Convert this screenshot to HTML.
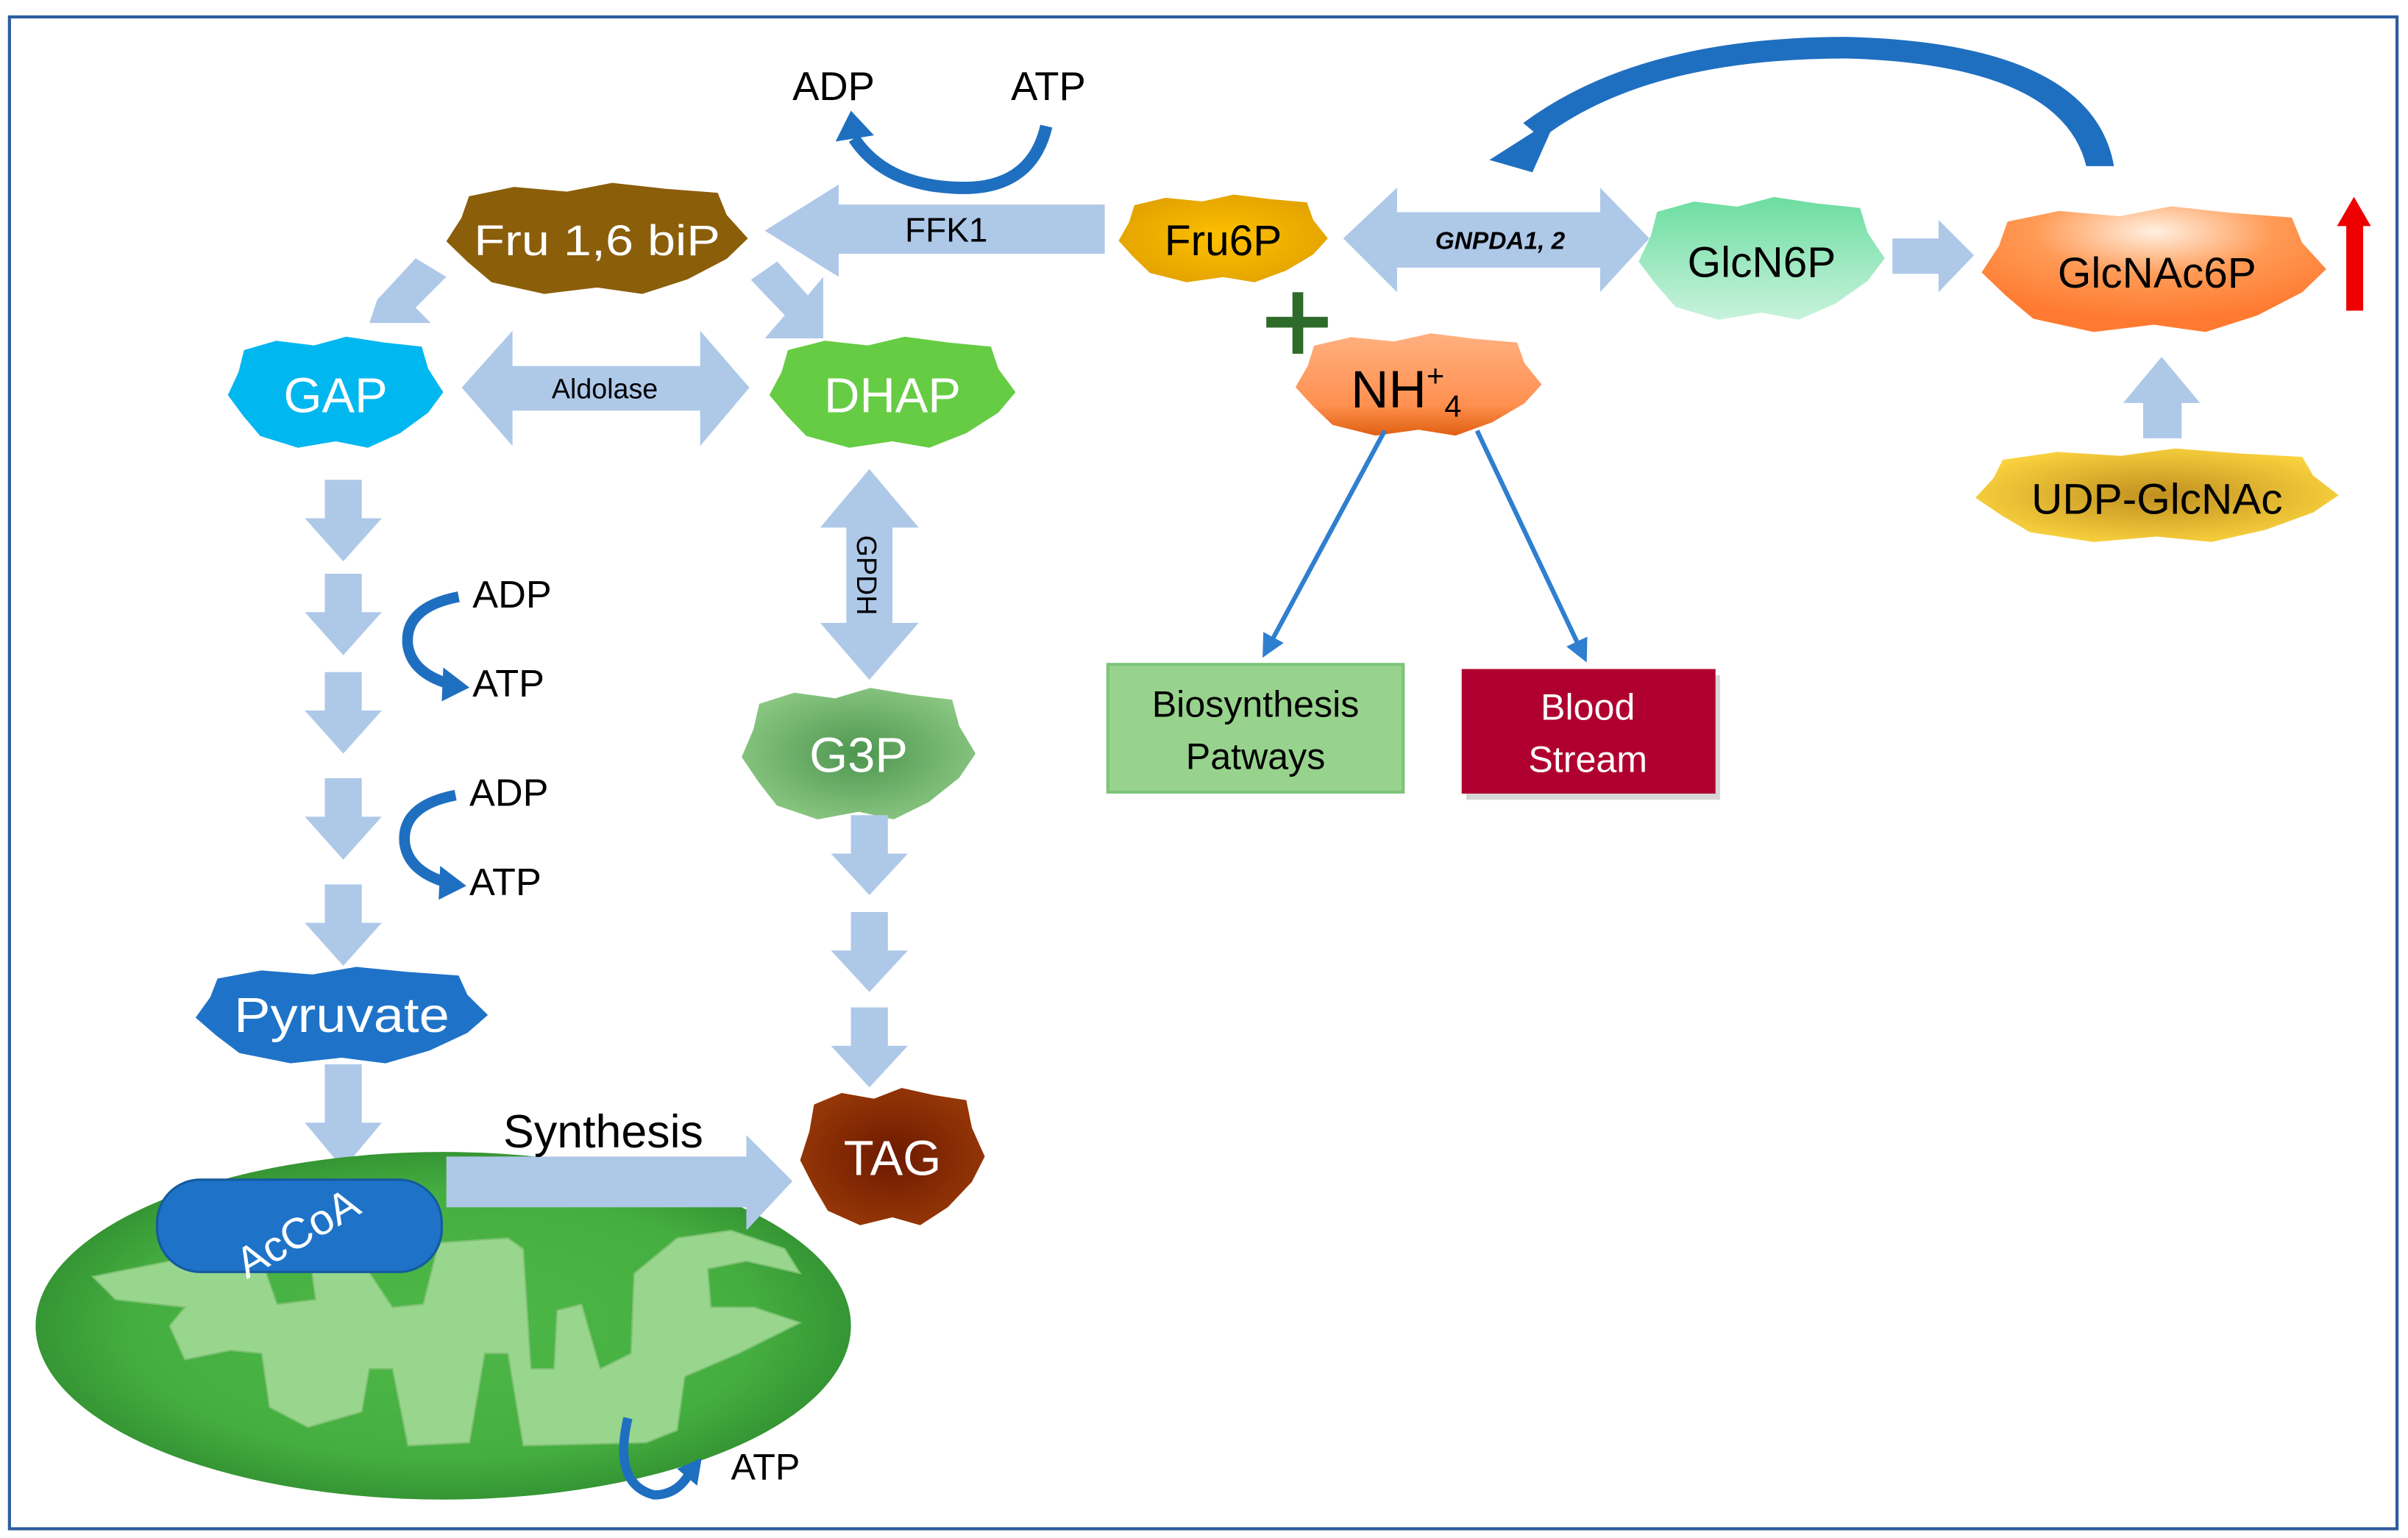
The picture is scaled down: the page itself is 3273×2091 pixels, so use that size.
<!DOCTYPE html>
<html><head><meta charset="utf-8"><style>
html,body{margin:0;padding:0;background:#fff}
svg{display:block}
text{font-family:"Liberation Sans",sans-serif}
</style></head><body>
<svg width="3273" height="2091" viewBox="0 0 1565 1000" xmlns="http://www.w3.org/2000/svg">
<defs>
<path id="blob" d="M-0.85,-0.72 L-0.55,-0.88 L-0.2,-0.8 L0.1,-0.95 L0.45,-0.85 L0.8,-0.78 L0.86,-0.4 L1,0 L0.86,0.35 L0.6,0.7 L0.3,0.95 L0,0.84 L-0.35,0.95 L-0.7,0.75 L-0.86,0.4 L-1,0.05 L-0.9,-0.35 Z"/>
<radialGradient id="mito" cx="0.5" cy="0.5" r="0.55"><stop offset="0" stop-color="#4DB848"/><stop offset="0.7" stop-color="#45AE40"/><stop offset="1" stop-color="#2E8B2E"/></radialGradient>
<radialGradient id="g3p" cx="0.5" cy="0.5" r="0.6"><stop offset="0" stop-color="#4E9650"/><stop offset="1" stop-color="#8FCB86"/></radialGradient>
<radialGradient id="tag" cx="0.5" cy="0.5" r="0.6"><stop offset="0" stop-color="#6E1A00"/><stop offset="1" stop-color="#9A3A08"/></radialGradient>
<radialGradient id="fru6" cx="0.5" cy="0.5" r="0.6"><stop offset="0" stop-color="#FFC000"/><stop offset="1" stop-color="#E0A000"/></radialGradient>
<linearGradient id="glcn" x1="0" y1="0" x2="0" y2="1"><stop offset="0" stop-color="#6CDDA0"/><stop offset="1" stop-color="#C8F2DC"/></linearGradient>
<radialGradient id="glcnac" cx="0.5" cy="0.2" r="0.7"><stop offset="0" stop-color="#FFF0E0"/><stop offset="0.5" stop-color="#FF9A55"/><stop offset="1" stop-color="#FF7A30"/></radialGradient>
<radialGradient id="udp" cx="0.5" cy="0.5" r="0.6"><stop offset="0" stop-color="#C09020"/><stop offset="1" stop-color="#FFD840"/></radialGradient>
<linearGradient id="nh4" x1="0" y1="0" x2="0" y2="1"><stop offset="0" stop-color="#FFB080"/><stop offset="0.7" stop-color="#FF9050"/><stop offset="1" stop-color="#E06010"/></linearGradient>
<marker id="ah" viewBox="0 0 10 10" refX="8" refY="5" markerWidth="5" markerHeight="5" orient="auto"><path d="M0,0 L10,5 L0,10 Z" fill="#2F7FD0"/></marker>
</defs>

<rect x="6" y="11" width="1552" height="983" fill="#fff" stroke="#2E5C9E" stroke-width="2"/>

<text x="515" y="65" font-size="26">ADP</text>
<text x="657" y="65" font-size="26">ATP</text>
<path d="M680,82 Q670,125 620,122 Q575,120 555,90" fill="none" stroke="#1F6FC0" stroke-width="8"/>
<path d="M543,92 L553,72 L568,88 Z" fill="#1F6FC0"/>

<path d="M718,133 L545,133 L545,120 L497,150 L545,180 L545,165 L718,165 Z" fill="#AEC8E8"/>
<text x="615" y="157" font-size="22" text-anchor="middle">FFK1</text>

<use href="#blob" transform="translate(388,155) scale(98,38)" fill="#8B5E0A"/>
<text x="388" y="166" font-size="28" fill="#fff" text-anchor="middle" textLength="160" lengthAdjust="spacingAndGlyphs">Fru 1,6 biP</text>

<path d="M290,180 L270,168 L245,195 L240,210 L280,210 L270,200 Z" fill="#AEC8E8"/>
<path d="M488,182 L505,170 L525,192 L535,180 L535,220 L497,220 L510,205 Z" fill="#AEC8E8"/>

<use href="#blob" transform="translate(218,255) scale(70,38)" fill="#00B7F0"/>
<text x="218" y="268" font-size="32" fill="#fff" text-anchor="middle">GAP</text>

<path d="M300,252 L333,215 L333,238 L455,238 L455,215 L487,252 L455,290 L455,267 L333,267 L333,290 Z" fill="#AEC8E8"/>
<text x="393" y="259" font-size="18" text-anchor="middle">Aldolase</text>

<use href="#blob" transform="translate(580,255) scale(80,38)" fill="#66CC44"/>
<text x="580" y="268" font-size="32" fill="#fff" text-anchor="middle">DHAP</text>

<path d="M565,305 L597,343 L580,343 L580,405 L597,405 L565,442 L533,405 L550,405 L550,343 L533,343 Z" fill="#AEC8E8"/>
<text transform="translate(557,374) rotate(90)" font-size="18" text-anchor="middle">GPDH</text>

<use href="#blob" transform="translate(558,490) scale(76,45)" fill="url(#g3p)"/>
<text x="558" y="502" font-size="32" fill="#fff" text-anchor="middle">G3P</text>

<g fill="#AEC8E8">
<path d="M553,530 L577,530 L577,555 L590,555 L565,582 L540,555 L553,555 Z"/>
<path d="M553,593 L577,593 L577,618 L590,618 L565,645 L540,618 L553,618 Z"/>
<path d="M553,655 L577,655 L577,680 L590,680 L565,707 L540,680 L553,680 Z"/>
</g>

<use href="#blob" transform="translate(580,752) scale(60,47)" fill="url(#tag)"/>
<text x="580" y="764" font-size="32" fill="#fff" text-anchor="middle">TAG</text>

<g fill="#AEC8E8">
<path d="M211,312 L235,312 L235,337 L248,337 L223,365 L198,337 L211,337 Z"/>
<path d="M211,373 L235,373 L235,398 L248,398 L223,426 L198,398 L211,398 Z"/>
<path d="M211,437 L235,437 L235,462 L248,462 L223,490 L198,462 L211,462 Z"/>
<path d="M211,506 L235,506 L235,531 L248,531 L223,559 L198,531 L211,531 Z"/>
<path d="M211,575 L235,575 L235,600 L248,600 L223,628 L198,600 L211,600 Z"/>
<path d="M211,692 L235,692 L235,730 L248,730 L223,760 L198,730 L211,730 Z"/>
</g>

<text x="307" y="395" font-size="25">ADP</text>
<text x="307" y="453" font-size="25">ATP</text>
<path d="M298,388 Q262,395 265,420 Q268,438 293,445" fill="none" stroke="#1F6FC0" stroke-width="7"/>
<path d="M288,434 L305,447 L287,456 Z" fill="#1F6FC0"/>
<text x="305" y="524" font-size="25">ADP</text>
<text x="305" y="582" font-size="25">ATP</text>
<path d="M296,517 Q260,524 263,549 Q266,567 291,574" fill="none" stroke="#1F6FC0" stroke-width="7"/>
<path d="M286,563 L303,576 L285,585 Z" fill="#1F6FC0"/>

<use href="#blob" transform="translate(222,660) scale(95,33)" fill="#1E73C8"/>
<text x="222" y="671" font-size="32" fill="#fff" text-anchor="middle" textLength="140" lengthAdjust="spacingAndGlyphs">Pyruvate</text>

<ellipse cx="288" cy="862" rx="265" ry="113" fill="url(#mito)"/>
<path d="M60,830 L110,820 L160,822 L165,805 L180,848 L205,845 L200,808 L225,805 L255,850 L275,848 L285,808 L330,805 L340,812 L345,890 L360,890 L362,852 L378,848 L390,890 L410,880 L412,828 L440,805 L475,800 L510,812 L520,828 L485,820 L460,825 L462,850 L490,850 L520,860 L480,880 L445,895 L440,930 L420,938 L340,940 L330,880 L315,880 L305,938 L265,940 L255,890 L240,890 L235,918 L200,928 L175,915 L170,880 L150,878 L120,884 L110,862 L120,850 L75,845 Z" fill="#98D68E" stroke="#7DC070" stroke-width="1"/>

<rect x="102" y="767" width="185" height="60" rx="28" fill="#1E73C8" stroke="#145A9E" stroke-width="1.5"/>
<text transform="translate(198,810) rotate(-30)" font-size="28" fill="#fff" text-anchor="middle">AcCoA</text>

<path d="M290,752 L485,752 L485,738 L515,768 L485,800 L485,785 L290,785 Z" fill="#AEC8E8"/>
<text x="392" y="746" font-size="30" text-anchor="middle">Synthesis</text>

<path d="M408,922 Q398,965 425,972 Q440,972 448,958" fill="none" stroke="#1F6FC0" stroke-width="6"/>
<path d="M440,955 L456,948 L453,966 Z" fill="#1F6FC0"/>
<text x="475" y="962" font-size="24">ATP</text>

<use href="#blob" transform="translate(795,155) scale(68,30)" fill="url(#fru6)"/>
<text x="795" y="166" font-size="28" text-anchor="middle">Fru6P</text>

<path d="M873,155 L908,122 L908,138 L1040,138 L1040,122 L1072,155 L1040,190 L1040,174 L908,174 L908,190 Z" fill="#AEC8E8"/>
<text x="975" y="162" font-size="16" font-weight="bold" font-style="italic" font-family="Liberation Mono, monospace" text-anchor="middle">GNPDA1, 2</text>

<use href="#blob" transform="translate(1145,168) scale(80,42)" fill="url(#glcn)"/>
<text x="1145" y="180" font-size="28" text-anchor="middle">GlcN6P</text>

<path d="M1230,155 L1260,155 L1260,143 L1283,166 L1260,190 L1260,178 L1230,178 Z" fill="#AEC8E8"/>

<use href="#blob" transform="translate(1400,175) scale(112,43)" fill="url(#glcnac)"/>
<text x="1402" y="187" font-size="28" text-anchor="middle">GlcNAc6P</text>

<rect x="1525" y="145" width="11" height="57" fill="#EE0000"/>
<path d="M1519,147 L1530,128 L1541,147 Z" fill="#EE0000"/>

<path d="M1374,108 L1356,108 Q1340,42 1200,38 Q1070,38 1002,90 L990,80 Q1065,24 1200,24 Q1360,28 1374,108 Z" fill="#1F6FC0"/>
<path d="M968,104 L1012,76 L996,112 Z" fill="#1F6FC0"/>

<path d="M1393,285 L1418,285 L1418,262 L1430,262 L1405,232 L1380,262 L1393,262 Z" fill="#AEC8E8"/>
<use href="#blob" transform="translate(1402,322) scale(118,32)" fill="url(#udp)"/>
<text x="1402" y="334" font-size="28" text-anchor="middle">UDP-GlcNAc</text>

<rect x="823" y="206" width="40" height="7" fill="#2E6B2A"/>
<rect x="840" y="190" width="7" height="40" fill="#2E6B2A"/>

<use href="#blob" transform="translate(922,250) scale(80,35)" fill="url(#nh4)"/>
<text x="878" y="265" font-size="34">NH<tspan font-size="20" dy="-14">+</tspan><tspan font-size="20" dy="20">4</tspan></text>

<line x1="900" y1="280" x2="822" y2="425" stroke="#2F7FD0" stroke-width="3" marker-end="url(#ah)"/>
<line x1="960" y1="280" x2="1030" y2="428" stroke="#2F7FD0" stroke-width="3" marker-end="url(#ah)"/>

<rect x="720" y="432" width="192" height="83" fill="#98D38E" stroke="#7DC47A" stroke-width="2"/>
<text x="816" y="466" font-size="24" text-anchor="middle">Biosynthesis</text>
<text x="816" y="500" font-size="24" text-anchor="middle">Patways</text>
<rect x="953" y="439" width="165" height="81" fill="#999" opacity="0.4"/>
<rect x="950" y="435" width="165" height="81" fill="#B0002F"/>
<text x="1032" y="468" font-size="24" fill="#fff" text-anchor="middle">Blood</text>
<text x="1032" y="502" font-size="24" fill="#fff" text-anchor="middle">Stream</text>
</svg>
</body></html>
